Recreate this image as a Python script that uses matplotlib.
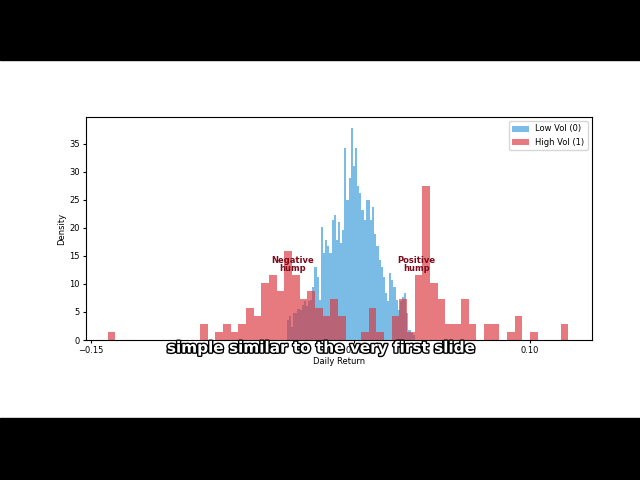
import numpy as np
import matplotlib.pyplot as plt
import matplotlib.patheffects as pe
from matplotlib.patches import Rectangle

# High vol (1): 60 bins, counts per bin
high_lo, high_hi = -0.1404, 0.1218
high_counts = [1, 0, 0, 0, 0, 0, 0, 0, 0, 0, 0, 0, 2, 0, 1, 2, 1, 2, 4, 3,
               7, 8, 6, 11, 8, 5, 6, 4, 3, 5, 3, 0, 0, 1, 4, 1, 0, 3, 5, 1,
               8, 19, 7, 5, 2, 2, 5, 2, 0, 2, 2, 0, 1, 3, 0, 1, 0, 0, 0, 2]

# Low vol (0): 60 bins, density per bin
low_lo, low_hi = -0.0385, 0.0344
low_density = [3.6, 4.2, 2.4, 4.8, 4.8, 5.6, 5.4, 6.3, 6.9, 6.0,
               6.9, 7.1, 9.5, 13.1, 11.3, 7.1, 20.2, 15.5, 17.9, 16.7,
               15.5, 21.4, 22.3, 17.9, 21.1, 17.3, 19.6, 34.2, 25.0, 28.9,
               37.8, 31.0, 34.2, 27.4, 26.2, 23.2, 21.4, 25.0, 25.0, 21.4,
               23.8, 19.0, 16.7, 14.3, 13.1, 11.3, 8.3, 6.9, 11.9, 10.7,
               9.5, 7.1, 5.4, 6.9, 7.7, 8.3, 4.8, 1.8, 1.2, 0.9]

fig = plt.figure(figsize=(6.4, 4.8), dpi=100)
fig.patch.set_facecolor('white')
# video frame black bars
fig.add_artist(Rectangle((0, 1 - 60 / 480), 1, 60 / 480, transform=fig.transFigure, color='black'))
fig.add_artist(Rectangle((0, 0), 1, 62 / 480, transform=fig.transFigure, color='black'))

ax = fig.add_axes([86 / 640, 1 - 340 / 480, 506 / 640, 223 / 480])

e_low = np.linspace(low_lo, low_hi, len(low_density) + 1)
e_high = np.linspace(high_lo, high_hi, len(high_counts) + 1)
c_low = (e_low[:-1] + e_low[1:]) / 2
c_high = (e_high[:-1] + e_high[1:]) / 2

ax.hist(c_low, bins=e_low, weights=low_density, color='#3498db', alpha=0.65,
        label='Low Vol (0)')
ax.hist(c_high, bins=e_high, weights=high_counts, density=True, color='#d9333a',
        alpha=0.65, label='High Vol (1)')

ax.text(-0.035, 13.5, 'Negative\nhump', ha='center', va='center', fontsize=6,
        fontweight='bold', color='#7b0a1a', linespacing=0.9)
ax.text(0.0355, 13.5, 'Positive\nhump', ha='center', va='center', fontsize=6,
        fontweight='bold', color='#7b0a1a', linespacing=0.9)

ax.set_xlim(-0.1528, 0.1353)
ax.set_ylim(0, 39.8)
ax.set_xticks([-0.15, -0.10, -0.05, 0.0, 0.05, 0.10])
ax.set_xticklabels(['\u22120.15', '\u22120.10', '\u22120.05', '0.00', '0.05', '0.10'])
ax.tick_params(labelsize=6, length=2.5, pad=2)
ax.set_xlabel('Daily Return', fontsize=6, labelpad=1)
ax.set_ylabel('Density', fontsize=6, labelpad=2)
ax.legend(loc='upper right', fontsize=6)

# subtitle burned into the video frame
fig.text(320 / 640, 1 - 348 / 480, 'simple similar to the very first slide',
         ha='center', va='center', fontsize=11, fontweight='bold', color='white',
         path_effects=[pe.withStroke(linewidth=2, foreground='black')])

fig.savefig('out.png', dpi=100, facecolor='white')
